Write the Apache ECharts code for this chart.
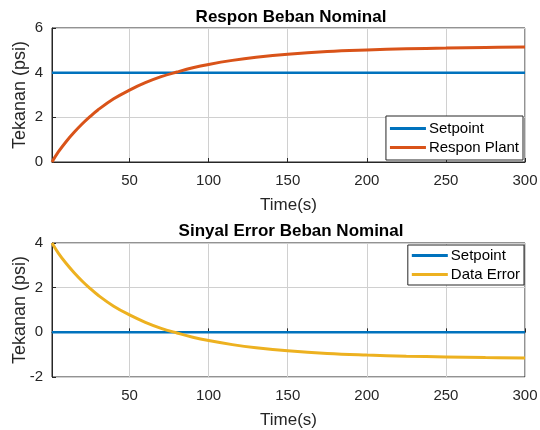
<!DOCTYPE html>
<html>
<head>
<meta charset="utf-8">
<script src="https://cdn.jsdelivr.net/npm/echarts@6/dist/echarts.min.js"></script>
<style>html,body{margin:0;padding:0;background:#fff}#c{width:540px;height:430px}</style>
</head>
<body>
<div id="c"></div>
<script>
var timeS = [1, 5, 10, 15, 20, 25, 30, 40, 50, 60, 70, 80, 90, 100, 115, 130, 150, 175, 200, 225, 250, 275, 300];
var responPlant = [0, 0.45, 0.92, 1.33, 1.70, 2.03, 2.33, 2.83, 3.22, 3.55, 3.82, 4.03, 4.22, 4.37, 4.55, 4.69, 4.83, 4.95, 5.02, 5.07, 5.10, 5.13, 5.15];
var dataError = [4, 3.55, 3.08, 2.67, 2.30, 1.97, 1.67, 1.17, 0.78, 0.45, 0.18, -0.03, -0.22, -0.37, -0.55, -0.69, -0.83, -0.95, -1.02, -1.07, -1.10, -1.13, -1.15];
var setpointTop = 4;
var setpointBottom = 0;
var xTicks = [50, 100, 150, 200, 250, 300];

function pairs(xs, ys) { return xs.map(function (x, i) { return [x, ys[i]]; }); }
function flat(xs, v) { return [[xs[0], v], [xs[xs.length - 1], v]]; }

var FONT = 'Liberation Sans, Arial, sans-serif';
var AX = '#262626';
function xAxis(gi) {
  return {
    type: 'value', gridIndex: gi, min: 1, max: 300,
    name: 'Time(s)', nameLocation: 'middle', nameGap: 35, nameMoveOverlap: false,
    nameTextStyle: { fontFamily: FONT, fontSize: 17, color: AX },
    axisLine: { show: true, lineStyle: { color: AX, width: 1 } },
    axisTick: { show: true, inside: true, length: 4, customValues: xTicks, lineStyle: { color: AX } },
    axisLabel: { customValues: xTicks, fontFamily: FONT, fontSize: 15, color: AX, margin: 11 },
    splitLine: { show: true, customValues: xTicks, lineStyle: { color: '#d0d0d0', width: 1 } }
  };
}
function yAxis(gi, mn, mx) {
  return {
    type: 'value', gridIndex: gi, min: mn, max: mx, interval: 2,
    name: 'Tekanan (psi)', nameLocation: 'middle', nameGap: 23, nameRotate: 90, nameMoveOverlap: false,
    nameTextStyle: { fontFamily: FONT, fontSize: 18, color: AX },
    axisLine: { show: true, lineStyle: { color: AX, width: 1 } },
    axisTick: { show: true, inside: true, length: 4, lineStyle: { color: AX } },
    axisLabel: { fontFamily: FONT, fontSize: 15, color: AX, margin: 9 },
    splitLine: { show: true, lineStyle: { color: '#d0d0d0', width: 1 } }
  };
}
function legend(names, right, top, padTB) {
  return {
    data: names.map(function (n) { return { name: n, icon: 'rect' }; }),
    orient: 'vertical', right: right, top: top,
    itemWidth: 36, itemHeight: 3, itemGap: 4,
    backgroundColor: '#fff', borderColor: AX, borderWidth: 1, borderRadius: 0,
    padding: [padTB, 4, padTB, 4],
    textStyle: { fontFamily: FONT, fontSize: 15, color: '#000', padding: [0, 0, 0, -2] },
    selectedMode: false
  };
}

var option = {
  animation: false,
  backgroundColor: '#fff',
  title: [
    { text: 'Respon Beban Nominal', left: 286, top: 4, textAlign: 'center',
      textStyle: { fontFamily: FONT, fontSize: 17, fontWeight: 'bold', color: '#000' } },
    { text: 'Sinyal Error Beban Nominal', left: 286, top: 218, textAlign: 'center',
      textStyle: { fontFamily: FONT, fontSize: 17, fontWeight: 'bold', color: '#000' } }
  ],
  grid: [
    { left: 52, right: 15, top: 28, height: 134, show: true, borderColor: AX, borderWidth: 1, backgroundColor: '#fff', containLabel: false, outerBoundsMode: 'none' },
    { left: 52, right: 15, top: 243, height: 134, show: true, borderColor: AX, borderWidth: 1, backgroundColor: '#fff', containLabel: false, outerBoundsMode: 'none' }
  ],
  xAxis: [xAxis(0), xAxis(1)],
  yAxis: [yAxis(0, 0, 6), yAxis(1, -2, 4)],
  legend: [
    legend(['Setpoint', 'Respon Plant'], 17, 116, 5),
    legend(['Setpoint', 'Data Error'], 16, 245, 3)
  ],
  series: [
    { name: 'Setpoint', type: 'line', xAxisIndex: 0, yAxisIndex: 0, data: flat(timeS, setpointTop),
      showSymbol: false, lineStyle: { color: '#0072BD', width: 2.5 }, itemStyle: { color: '#0072BD' } },
    { name: 'Respon Plant', type: 'line', xAxisIndex: 0, yAxisIndex: 0, data: pairs(timeS, responPlant),
      smooth: 0.4, showSymbol: false, lineStyle: { color: '#D95319', width: 3 }, itemStyle: { color: '#D95319' } },
    { name: 'Setpoint', type: 'line', xAxisIndex: 1, yAxisIndex: 1, data: flat(timeS, setpointBottom),
      showSymbol: false, lineStyle: { color: '#0072BD', width: 2.5 }, itemStyle: { color: '#0072BD' } },
    { name: 'Data Error', type: 'line', xAxisIndex: 1, yAxisIndex: 1, data: pairs(timeS, dataError),
      smooth: 0.4, showSymbol: false, lineStyle: { color: '#EDB120', width: 3 }, itemStyle: { color: '#EDB120' } }
  ]
};
echarts.init(document.getElementById('c'), null, { renderer: 'canvas' }).setOption(option);
</script>
</body>
</html>
